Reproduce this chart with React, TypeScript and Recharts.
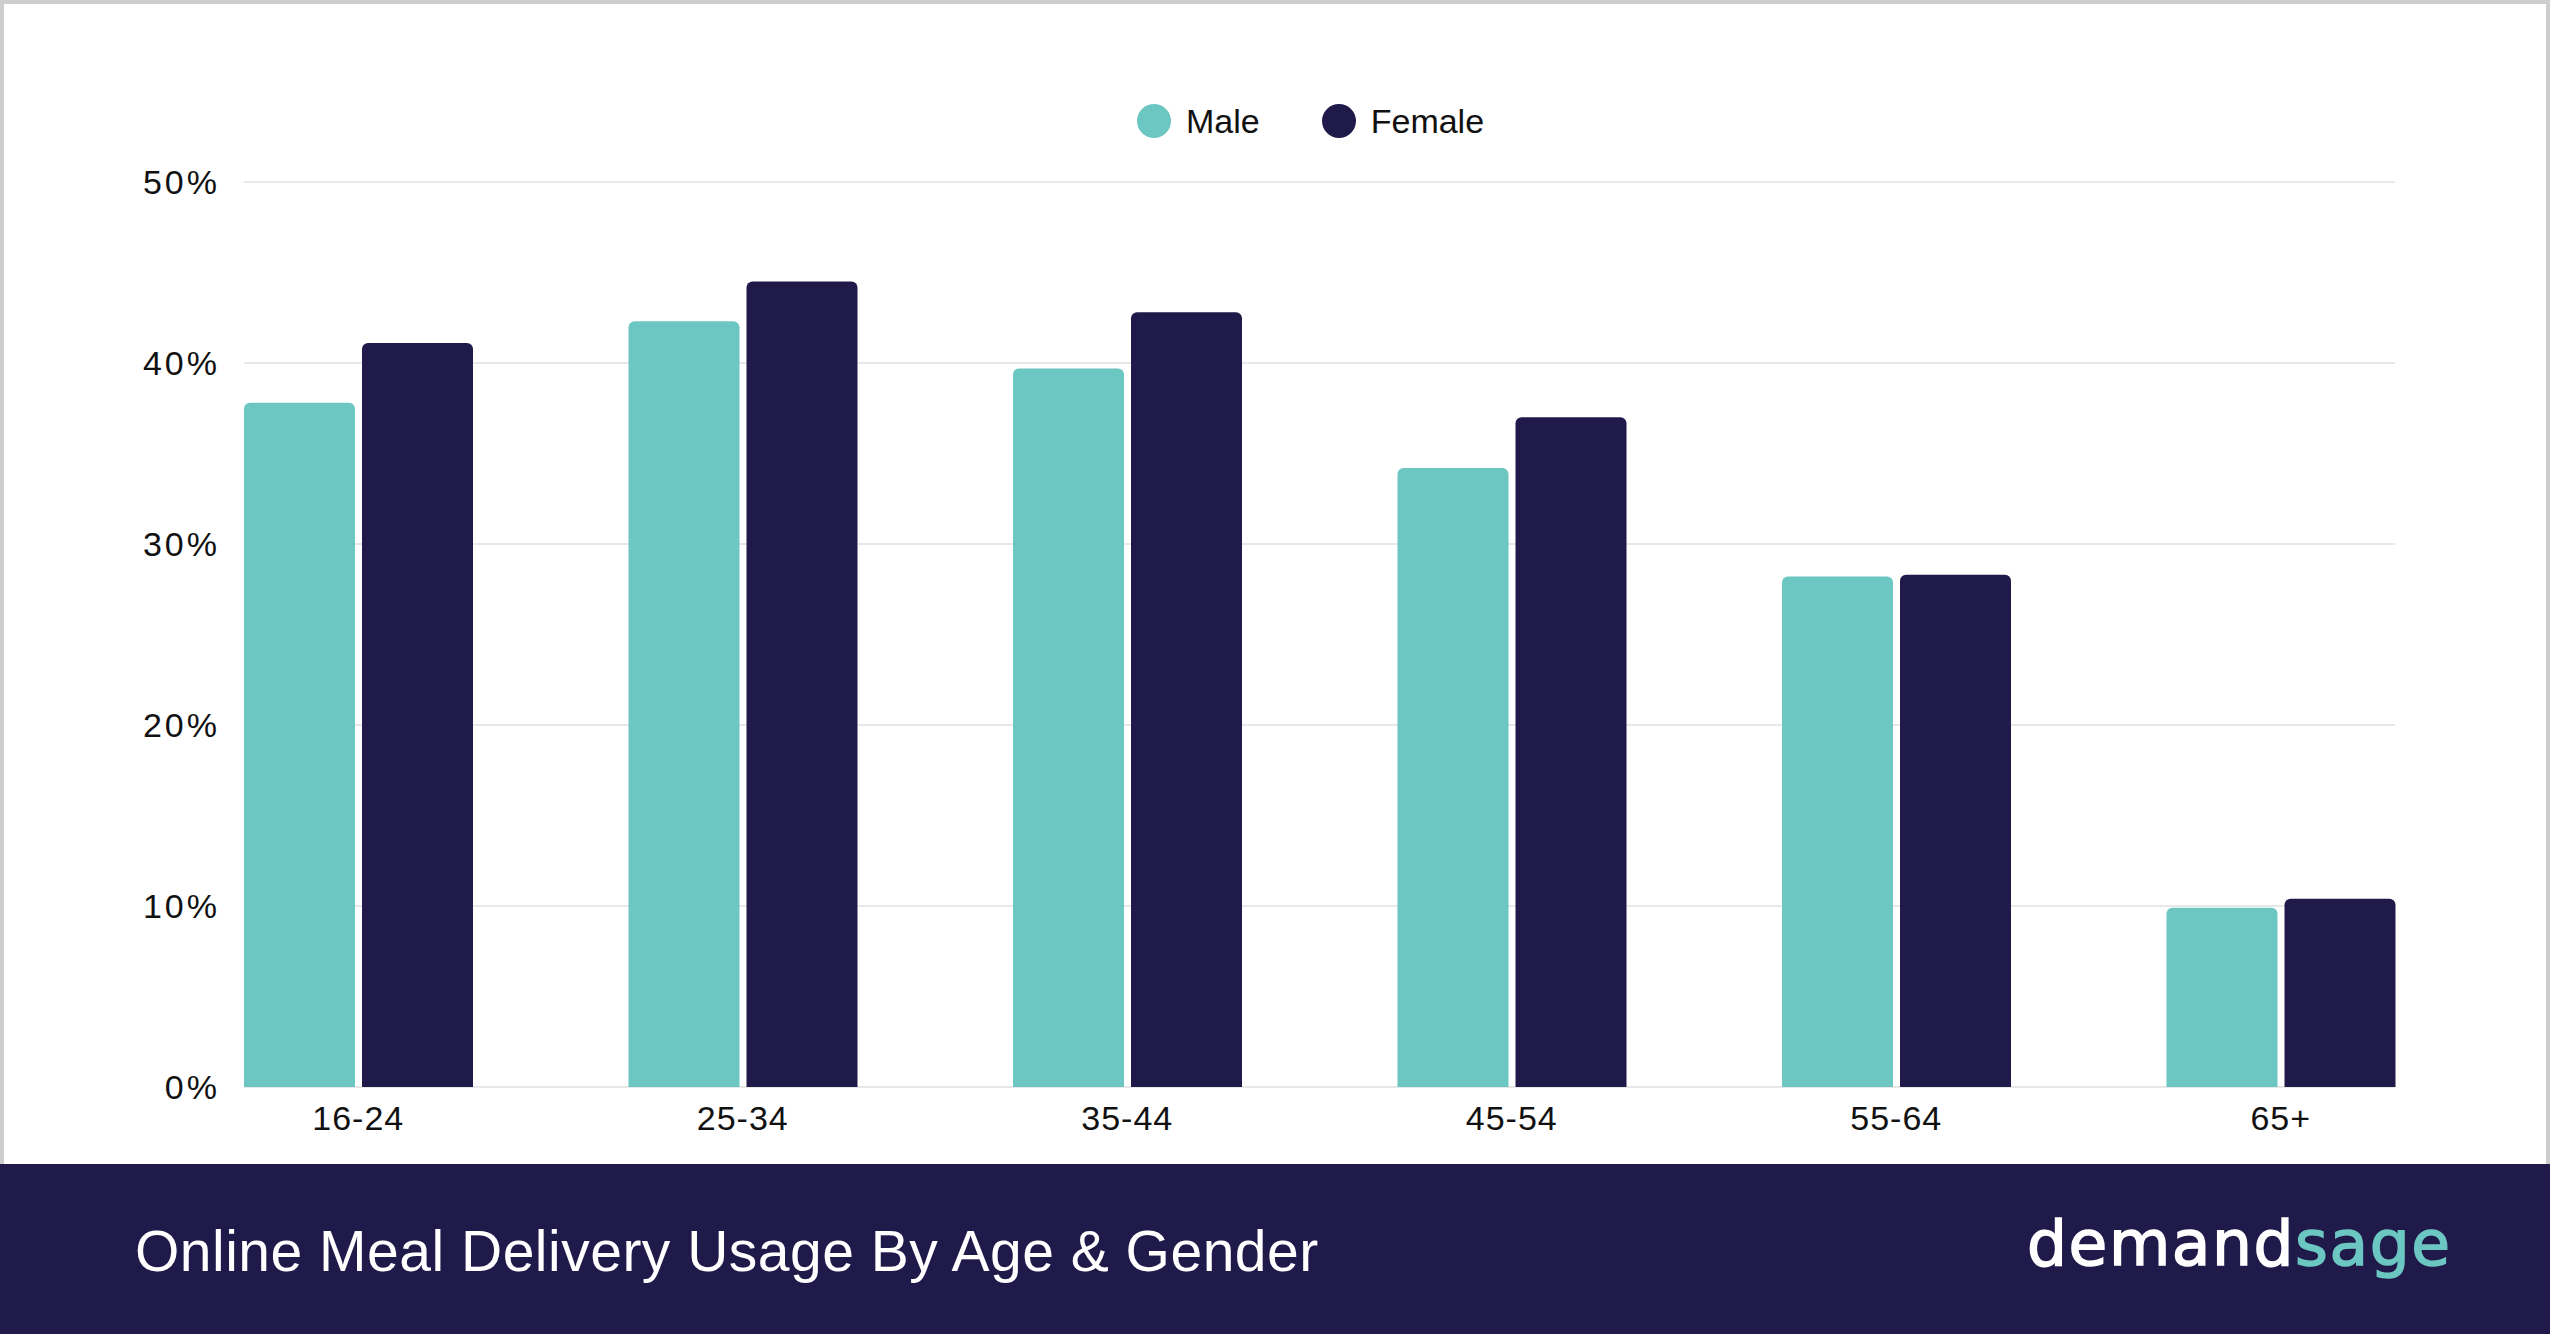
import { Bar, BarChart, CartesianGrid, XAxis, YAxis } from 'recharts'

const ageGroups = ['16-24', '25-34', '35-44', '45-54', '55-64', '65+']
const maleShare = [37.8, 42.3, 39.7, 34.2, 28.2, 9.9]
const femaleShare = [41.1, 44.5, 42.8, 37.0, 28.3, 10.4]
const percentTicks = [0, 10, 20, 30, 40, 50]

const MALE_COLOR = '#6cc6c2'
const FEMALE_COLOR = '#201a4a'
const FONT = '"Liberation Sans", Arial, sans-serif'

const series = [
  { key: 'male', name: 'Male', color: MALE_COLOR },
  { key: 'female', name: 'Female', color: FEMALE_COLOR },
]

const rows = ageGroups.map((age, i) => ({
  age,
  male: maleShare[i],
  female: femaleShare[i],
}))

function ChartLegend() {
  return (
    <div
      style={{
        position: 'absolute',
        left: 1137,
        top: 104,
        display: 'flex',
        alignItems: 'center',
        fontFamily: FONT,
        fontSize: 34,
        color: '#111',
      }}
    >
      {series.map((s, i) => (
        <div
          key={s.key}
          style={{
            display: 'flex',
            alignItems: 'center',
            marginRight: i === series.length - 1 ? 0 : 62,
          }}
        >
          <span
            style={{
              width: 34,
              height: 34,
              borderRadius: '50%',
              background: s.color,
              marginRight: 15,
            }}
          />
          <span style={{ lineHeight: '34px' }}>{s.name}</span>
        </div>
      ))}
    </div>
  )
}

function Footer() {
  return (
    <svg
      width={2550}
      height={170}
      style={{ position: 'absolute', left: 0, top: 1164, display: 'block' }}
    >
      <rect x={0} y={0} width={2550} height={170} fill={FEMALE_COLOR} />
      <text
        x={135}
        y={107}
        fill="#ffffff"
        fontFamily={FONT}
        fontSize={57}
        letterSpacing={0.5}
      >
        Online Meal Delivery Usage By Age &amp; Gender
      </text>
      {/* wordmark */}
      <text
        x={2027}
        y={101}
        fontFamily='"DejaVu Sans", sans-serif'
        fontSize={63}
        strokeWidth={1.5}
        textLength={423}
        lengthAdjust="spacing"
      >
        <tspan fill="#ffffff" stroke="#ffffff">demand</tspan>
        <tspan fill={MALE_COLOR} stroke={MALE_COLOR}>sage</tspan>
      </text>
    </svg>
  )
}

export default function App() {
  return (
    <div
      style={{
        position: 'absolute',
        left: 0,
        top: 0,
        width: 2550,
        height: 1334,
        background: '#ffffff',
        overflow: 'hidden',
      }}
    >
      <div
        style={{
          position: 'absolute',
          inset: 0,
          border: '4px solid #cdcdcd',
          boxSizing: 'border-box',
        }}
      />
      <div style={{ position: 'absolute', left: 0, top: 0 }}>
        <BarChart
          width={2550}
          height={1164}
          data={rows}
          margin={{ top: 182, right: 155, bottom: 17, left: 144 }}
          barCategoryGap={78}
          barGap={7}
        >
          <CartesianGrid vertical={false} stroke="#e8e8e8" strokeWidth={2} />
          <XAxis
            dataKey="age"
            height={60}
            axisLine={false}
            tickLine={false}
            tickSize={0}
            tickMargin={19}
            padding={{ left: -78, right: -78 }}
            tick={{ fill: '#111', fontSize: 34, fontFamily: FONT, letterSpacing: 1 }}
          />
          <YAxis
            width={100}
            domain={[0, 50]}
            ticks={percentTicks}
            axisLine={false}
            tickLine={false}
            tickSize={0}
            tickMargin={24}
            tickFormatter={(v) => `${v}%`}
            tick={{ fill: '#111', fontSize: 34, fontFamily: FONT, letterSpacing: 3 }}
          />
          {series.map((s) => (
            <Bar
              key={s.key}
              dataKey={s.key}
              name={s.name}
              fill={s.color}
              radius={[6, 6, 0, 0]}
              isAnimationActive={false}
            />
          ))}
        </BarChart>
      </div>
      <ChartLegend />
      <Footer />
    </div>
  )
}
